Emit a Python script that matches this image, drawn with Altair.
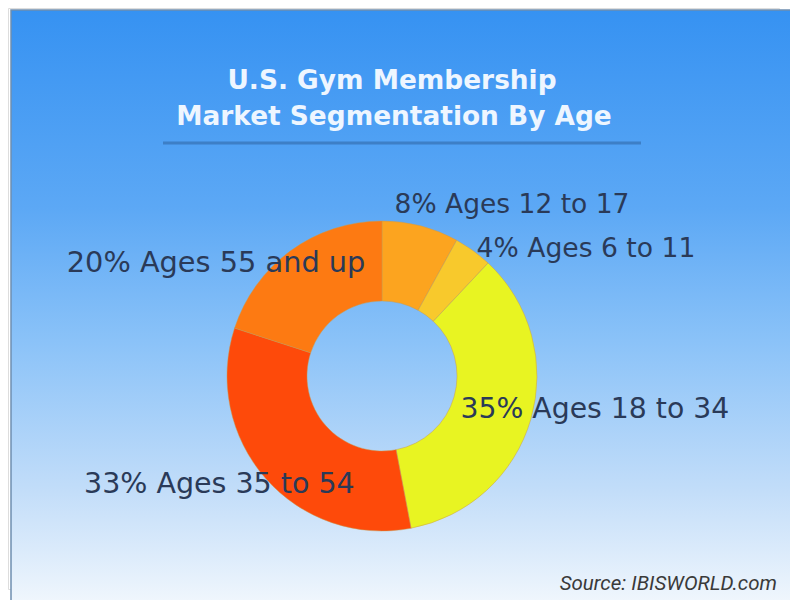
import math
import altair as alt
import pandas as pd

# ---- data ----
segments = ["Ages 12 to 17", "Ages 6 to 11", "Ages 18 to 34", "Ages 35 to 54", "Ages 55 and up"]
shares = [8, 4, 35, 33, 20]
order_idx = [0, 1, 2, 3, 4]
slice_colors = ["#fca41f", "#f8c92c", "#e8f422", "#fe4a0a", "#fd7a12"]
title_lines = ["U.S. Gym Membership", "Market Segmentation By Age"]
source_text = ["Source: IBISWORLD.com"]

df = pd.DataFrame({
    "segment": segments,
    "share": shares,
    "idx": order_idx,
})
df["label"] = [f"{v}% {s}" for v, s in zip(shares, segments)]

W, H = 782, 592
CX, CY = 374, 368
R_OUT, R_IN = 155, 75
R_LAB = 115

bg_data = pd.DataFrame({"k": [0]})
background = alt.Chart(bg_data).mark_rect(
    color=alt.Gradient(
        gradient="linear",
        stops=[
            alt.GradientStop(color="#3692f2", offset=0),
            alt.GradientStop(color="#5ca8f5", offset=0.33),
            alt.GradientStop(color="#8ac2f8", offset=0.55),
            alt.GradientStop(color="#c2ddf9", offset=0.8),
            alt.GradientStop(color="#f3f8fd", offset=1),
        ],
        x1=0, x2=0, y1=0, y2=1,
    ),
    stroke="#6f8fb0",
    strokeWidth=1.5,
).encode(
    x=alt.value(3), x2=alt.value(W + 10), y=alt.value(2), y2=alt.value(H + 10)
)

base = alt.Chart(df).transform_window(
    cum="sum(share)", sort=[alt.SortField("idx")], frame=[None, 0]
).transform_calculate(
    start="datum.cum - datum.share",
    mid="datum.cum - datum.share / 2",
)

theta_scale = alt.Scale(domain=[0, 100], range=[0, 2 * math.pi])

arcs = base.mark_arc(
    radius=R_OUT, radius2=R_IN, stroke="#c89a50", strokeWidth=0.8, strokeOpacity=0.6
).encode(
    theta=alt.Theta("start:Q", scale=theta_scale),
    theta2="cum:Q",
    color=alt.Color("segment:N", scale=alt.Scale(domain=segments, range=slice_colors), legend=None),
    x=alt.value(CX),
    y=alt.value(CY),
)

label_style = {
    "Ages 12 to 17": dict(align="left", dx=-16, dy=-52, fontSize=26.5),
    "Ages 6 to 11": dict(align="left", dx=27, dy=-26, fontSize=26.6),
    "Ages 18 to 34": dict(align="left", dx=-32, dy=10, fontSize=28.3),
    "Ages 35 to 54": dict(align="right", dx=59, dy=41, fontSize=28.5),
    "Ages 55 and up": dict(align="right", dx=51, dy=-11, fontSize=28.8),
}

label_layers = []
for seg in segments:
    st = label_style[seg]
    label_layers.append(
        base.transform_filter(alt.datum.segment == seg).mark_text(
            font="DejaVu Sans", color="#2a3a58",
            baseline="alphabetic", radius=R_LAB, **st
        ).encode(
            theta=alt.Theta("mid:Q", scale=theta_scale),
            text="label:N",
            x=alt.value(CX),
            y=alt.value(CY),
        )
    )

title_df = pd.DataFrame({"line": title_lines, "n": [0, 1]})
title1 = alt.Chart(title_df).transform_filter(alt.datum.n == 0).mark_text(
    font="DejaVu Sans", fontWeight="bold", fontSize=26.4, color="#eef6ff",
    align="center", baseline="alphabetic"
).encode(text="line:N", x=alt.value(384), y=alt.value(81))
title2 = alt.Chart(title_df).transform_filter(alt.datum.n == 1).mark_text(
    font="DejaVu Sans", fontWeight="bold", fontSize=26.4, color="#eef6ff",
    align="center", baseline="alphabetic"
).encode(text="line:N", x=alt.value(386), y=alt.value(117))

rule = alt.Chart(bg_data).mark_rule(color="#3d7fc6", strokeWidth=3).encode(
    x=alt.value(155), x2=alt.value(633), y=alt.value(135)
)

source = alt.Chart(pd.DataFrame({"s": source_text})).mark_text(
    font="Roboto", fontStyle="italic", fontSize=20.5, color="#3a3a3a",
    align="right", baseline="alphabetic"
).encode(text="s:N", x=alt.value(769), y=alt.value(582))

chart = alt.layer(background, arcs, *label_layers, title1, title2, rule, source).properties(
    width=W, height=H,
    autosize=alt.AutoSizeParams(type="fit", contains="padding"),
    padding=0,
).configure_view(stroke=None).configure(background="white")

chart.save("out.html", embed_options={"renderer": "svg", "actions": False})
